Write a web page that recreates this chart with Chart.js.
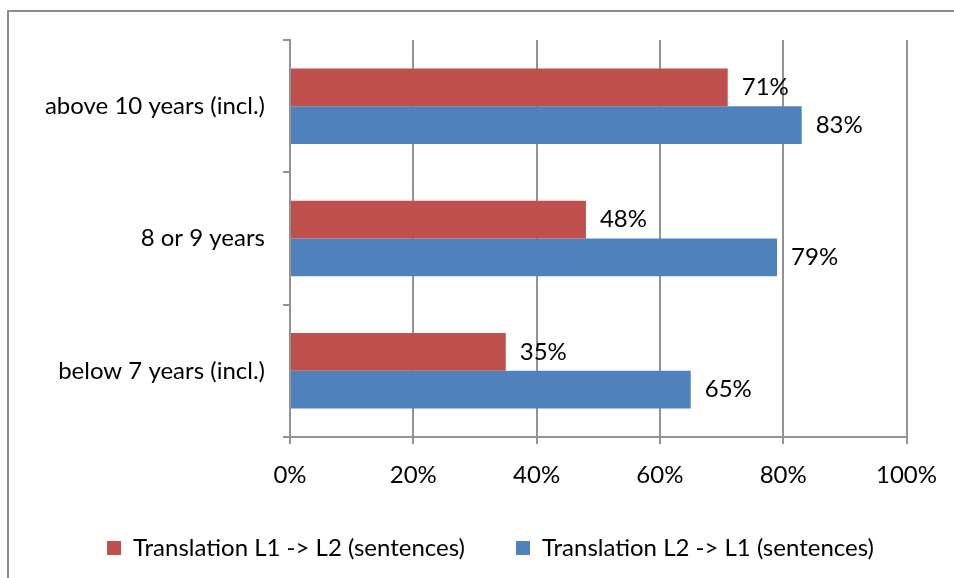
<!DOCTYPE html>
<html>
<head>
<meta charset="utf-8">
<script src="https://cdn.jsdelivr.net/npm/chart.js@4"></script>
<style>
  html, body { margin: 0; padding: 0; background: #fff; overflow: hidden; }
  #frame {
    position: absolute; left: 7px; top: 10px;
    width: 1000px; height: 640px;
    border: 2px solid #8c8c8c; box-sizing: border-box;
  }
  #wrap { position: absolute; left: 0; top: 0; width: 954px; height: 578px; }
</style>
</head>
<body>
<div id="frame"></div>
<div id="wrap"><canvas id="barChart" width="954" height="578"></canvas></div>
<script>
const categories = ["above 10 years (incl.)", "8 or 9 years", "below 7 years (incl.)"];
const seriesNames = ["Translation L1 -> L2 (sentences)", "Translation L2 -> L1 (sentences)"];
const l1ToL2 = [71, 48, 35];
const l2ToL1 = [83, 79, 65];
const xTicks = [0, 20, 40, 60, 80, 100];

const FONT = "Lato, 'Liberation Sans', sans-serif";
const FONT_SIZE = 24;
const GRID = "#939393";

// value labels just past the end of each bar
const barValueLabels = {
  id: "barValueLabels",
  afterDatasetsDraw(chart) {
    const ctx = chart.ctx;
    ctx.save();
    ctx.font = FONT_SIZE + "px " + FONT;
    ctx.fillStyle = "#000";
    ctx.textAlign = "left";
    ctx.textBaseline = "middle";
    chart.data.datasets.forEach((ds, i) => {
      chart.getDatasetMeta(i).data.forEach((bar, j) => {
        ctx.fillText(ds.data[j] + "%", bar.x + 14, bar.y);
      });
    });
    ctx.restore();
  }
};

// nudge the legend so it sits centred under the plot rather than the canvas
const legendShift = {
  id: "legendShift",
  afterLayout(chart) {
    chart.legend.left += 33;
    chart.legend.right += 33;
  }
};

new Chart(document.getElementById("barChart"), {
  type: "bar",
  data: {
    labels: categories,
    datasets: [
      { label: seriesNames[0], data: l1ToL2, backgroundColor: "#C0504D" },
      { label: seriesNames[1], data: l2ToL1, backgroundColor: "#4F81BD" }
    ]
  },
  options: {
    indexAxis: "y",
    responsive: false,
    animation: false,
    categoryPercentage: 0.57,
    barPercentage: 1,
    layout: { padding: { left: 7, right: 46, top: 40, bottom: 8 } },
    scales: {
      x: {
        min: 0,
        max: 100,
        afterBuildTicks: (scale) => { scale.ticks = xTicks.map(v => ({ value: v })); },
        afterFit: (scale) => { scale.height = 48; },
        grid: { color: GRID, lineWidth: 2, tickLength: 7 },
        border: { color: GRID, width: 2 },
        ticks: {
          padding: 17,
          color: "#000",
          font: { family: FONT, size: FONT_SIZE },
          callback: (v) => v + "%"
        }
      },
      y: {
        afterFit: (scale) => { scale.width = 283; },
        grid: { color: GRID, lineWidth: 2, tickLength: 7, offset: true, drawOnChartArea: false },
        border: { color: GRID, width: 2 },
        ticks: { padding: 18, color: "#000", font: { family: FONT, size: FONT_SIZE } }
      }
    },
    plugins: {
      legend: {
        position: "bottom",
        labels: {
          color: "#000",
          font: { family: FONT, size: FONT_SIZE },
          boxWidth: 14,
          boxHeight: 14,
          padding: 51
        }
      },
      tooltip: { enabled: false }
    }
  },
  plugins: [barValueLabels, legendShift]
});
</script>
</body>
</html>
